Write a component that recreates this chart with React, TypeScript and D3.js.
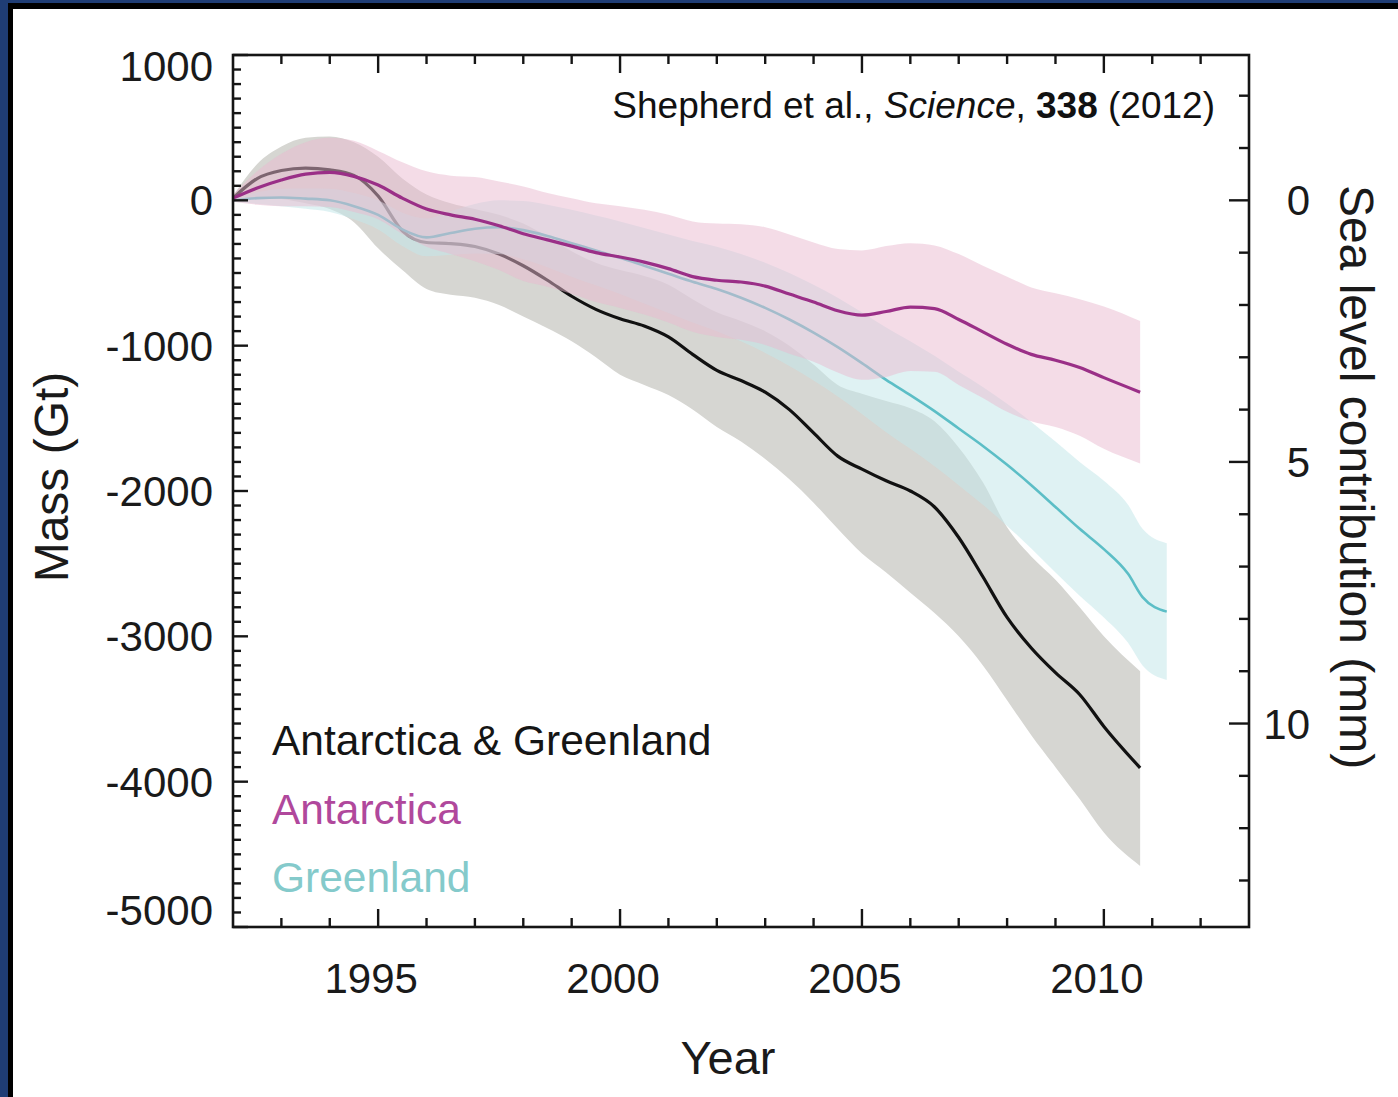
import React from 'react';
import * as d3 from 'd3';

const W = 1398;
const H = 1097;
const FONT = '"Liberation Sans", Arial, Helvetica, sans-serif';
const GT_PER_MM = 360;

// x positions (decimal years) for Antarctica & combined series
const yearsA = [
  1992.0, 1992.5, 1993.0, 1993.5, 1994.0, 1994.5, 1995.0, 1995.5, 1996.0, 1996.5,
  1997.0, 1997.5, 1998.0, 1998.5, 1999.0, 1999.5, 2000.0, 2000.5, 2001.0, 2001.5,
  2002.0, 2002.5, 2003.0, 2003.5, 2004.0, 2004.5, 2005.0, 2005.5, 2006.0, 2006.5,
  2007.0, 2007.5, 2008.0, 2008.5, 2009.0, 2009.5, 2010.0, 2010.75,
];

const antarcticaMean = [
  15, 85, 140, 180, 192, 165, 105, 15, -60, -100,
  -130, -175, -230, -272, -315, -360, -390, -425, -470, -525,
  -550, -562, -590, -645, -700, -760, -790, -765, -735, -745,
  -820, -905, -990, -1060, -1100, -1150, -1220, -1320,
];
const antarcticaUpper = [
  40, 200, 320, 400, 430, 410, 340, 262, 200, 170,
  160, 130, 95, 50, 15, -20, -40, -65, -100, -145,
  -160, -165, -185, -235, -290, -335, -345, -315, -295, -310,
  -370, -450, -525, -600, -640, -680, -730, -830,
];
const antarcticaLower = [
  -10, -30, -40, -40, -46, -80, -130, -232, -320, -370,
  -420, -480, -555, -594, -645, -700, -740, -785, -840, -905,
  -940, -960, -995, -1055, -1110, -1185, -1235, -1215, -1175, -1180,
  -1270, -1360, -1455, -1520, -1560, -1620, -1710, -1810,
];

const combinedMean = [
  15, 150, 205, 222, 210, 172, 30, -210, -290, -298,
  -318, -370, -450, -550, -660, -750, -815, -865, -940, -1060,
  -1170, -1240, -1320, -1440, -1600, -1760, -1850, -1930, -2000, -2110,
  -2320, -2590, -2870, -3080, -3250, -3400, -3620, -3905,
];
const combinedUpper = [
  30, 250, 370, 430, 440, 400, 300, 150, 40, -20,
  -60, -100, -160, -250, -350, -430, -480, -520, -580, -680,
  -770, -830, -900, -1000, -1130, -1270, -1330, -1380, -1430, -1520,
  -1700, -1940, -2250, -2450, -2610, -2800, -3000, -3240,
];
const combinedLower = [
  -10, 20, 10, -20, -60, -150, -330, -480, -610, -650,
  -670, -720, -800, -880, -970, -1080, -1200, -1270, -1340, -1440,
  -1560, -1660, -1780, -1920, -2080, -2260, -2430, -2560, -2700, -2840,
  -3000, -3200, -3440, -3680, -3900, -4120, -4350, -4580,
];

// Greenland series runs slightly longer
const yearsG = [
  1992.0, 1992.5, 1993.0, 1993.5, 1994.0, 1994.5, 1995.0, 1995.5, 1996.0, 1996.5,
  1997.0, 1997.5, 1998.0, 1998.5, 1999.0, 1999.5, 2000.0, 2000.5, 2001.0, 2001.5,
  2002.0, 2002.5, 2003.0, 2003.5, 2004.0, 2004.5, 2005.0, 2005.5, 2006.0, 2006.5,
  2007.0, 2007.5, 2008.0, 2008.5, 2009.0, 2009.5, 2010.0, 2010.5, 2010.8, 2011.3,
];
const greenlandMean = [
  0, 15, 20, 12, 0, -40, -100, -200, -255, -225,
  -195, -185, -205, -245, -295, -345, -395, -450, -505, -560,
  -610, -670, -740, -820, -910, -1010, -1120, -1235, -1340, -1450,
  -1570, -1690, -1820, -1960, -2110, -2260, -2400, -2570, -2730, -2830,
];
const greenlandUpper = [
  10, 55, 80, 82, 80, 50, 0, -85, -125, -75,
  -25, 0, -5, -30, -65, -105, -145, -190, -235, -280,
  -320, -370, -430, -500, -580, -670, -770, -875, -970, -1070,
  -1180, -1285, -1400, -1525, -1660, -1800, -1930, -2095, -2260, -2360,
];
const greenlandLower = [
  -10, -25, -40, -58, -80, -130, -200, -315, -385, -375,
  -365, -370, -405, -460, -525, -585, -645, -710, -775, -840,
  -900, -970, -1050, -1140, -1240, -1350, -1470, -1595, -1710, -1830,
  -1960, -2095, -2240, -2395, -2560, -2720, -2870, -3045, -3200, -3300,
];

const massTickLabels = [1000, 0, -1000, -2000, -3000, -4000, -5000];
const yearTickLabels = [1995, 2000, 2005, 2010];
const seaTickLabels = [0, 5, 10];
const legendItems = [
  { label: 'Antarctica & Greenland', color: '#151515' },
  { label: 'Antarctica', color: '#b0489c' },
  { label: 'Greenland', color: '#84cacb' },
];

const PL = 233, PT = 55, PR = 1249, PB = 927;

export default function App() {
  const x = d3.scaleLinear().domain([1992, 2013]).range([PL, PR]);
  const y = d3.scaleLinear().domain([-5000, 1000]).range([PB, PT]);
  const sea = d3
    .scaleLinear()
    .domain([-1000 / GT_PER_MM, 5000 / GT_PER_MM])
    .range([PT, PB]);

  const band = (years: number[], lo: number[], hi: number[]) =>
    d3
      .area<number>()
      .x((_, i) => x(years[i]))
      .y0((_, i) => y(lo[i]))
      .y1((_, i) => y(hi[i]))
      .curve(d3.curveMonotoneX)(years) as string;

  const line = (years: number[], v: number[]) =>
    d3
      .line<number>()
      .x((_, i) => x(years[i]))
      .y((_, i) => y(v[i]))
      .curve(d3.curveMonotoneX)(years) as string;

  const massMinor = d3.range(-5000, 1001, 100);
  const yearMinor = d3.range(1993, 2013, 1);
  const seaMinor = d3.range(-2, 14, 1);

  const tickColor = '#151515';
  const tw = 2.4;

  return (
    <svg
      width={W}
      height={H}
      style={{ position: 'absolute', left: 0, top: 0, display: 'block' }}
      fontFamily={FONT}
    >
      <rect x={0} y={0} width={W} height={H} fill="#1f3d75" />
      <rect x={8} y={3} width={W} height={H} fill="#000" />
      <rect x={13} y={9} width={W} height={H} fill="#fff" />

      {/* uncertainty bands and lines */}
      <path d={band(yearsA, combinedLower, combinedUpper)} fill="#d6d6d2" />
      <path d={line(yearsA, combinedMean)} fill="none" stroke="#111" strokeWidth={3.2} />
      <path d={band(yearsG, greenlandLower, greenlandUpper)} fill="#c4e8ea" fillOpacity={0.55} />
      <path d={line(yearsG, greenlandMean)} fill="none" stroke="#5cbec6" strokeWidth={2.6} />
      <path d={band(yearsA, antarcticaLower, antarcticaUpper)} fill="#e9b9cf" fillOpacity={0.5} />
      <path d={line(yearsA, antarcticaMean)} fill="none" stroke="#9a2f87" strokeWidth={3.2} />

      {/* plot frame */}
      <rect
        x={PL}
        y={PT}
        width={PR - PL}
        height={PB - PT}
        fill="none"
        stroke={tickColor}
        strokeWidth={2.6}
      />

      {/* left ticks */}
      {massMinor.map((v) => {
        const major = v % 1000 === 0;
        return (
          <line
            key={'lm' + v}
            x1={PL}
            x2={PL + (major ? 15 : 8)}
            y1={y(v)}
            y2={y(v)}
            stroke={tickColor}
            strokeWidth={tw}
          />
        );
      })}
      {/* right ticks (sea level) */}
      {seaMinor.map((m) => {
        const major = m % 5 === 0;
        return (
          <line
            key={'rm' + m}
            x1={PR}
            x2={PR - (major ? 20 : 10)}
            y1={sea(m)}
            y2={sea(m)}
            stroke={tickColor}
            strokeWidth={tw}
          />
        );
      })}
      {/* top & bottom ticks */}
      {yearMinor.map((yr) => {
        const major = yr % 5 === 0;
        return (
          <g key={'x' + yr}>
            <line
              x1={x(yr)}
              x2={x(yr)}
              y1={PT}
              y2={PT + (major ? 18 : 9)}
              stroke={tickColor}
              strokeWidth={tw}
            />
            <line
              x1={x(yr)}
              x2={x(yr)}
              y1={PB}
              y2={PB - (major ? 18 : 9)}
              stroke={tickColor}
              strokeWidth={tw}
            />
          </g>
        );
      })}

      {/* tick labels */}
      {massTickLabels.map((v) => {
        let off = 0;
        if (v === 1000) off = 11;
        if (v === -5000) off = -17;
        return (
          <text
            key={'ml' + v}
            x={213}
            y={y(v) + off}
            dy="0.36em"
            textAnchor="end"
            fontSize={42}
            fill="#1a1a1a"
          >
            {v}
          </text>
        );
      })}
      {yearTickLabels.map((yr) => (
        <text
          key={'yl' + yr}
          x={x(yr) - 7}
          y={993}
          textAnchor="middle"
          fontSize={42}
          fill="#1a1a1a"
        >
          {yr}
        </text>
      ))}
      {seaTickLabels.map((m) => (
        <text
          key={'sl' + m}
          x={1310}
          y={sea(m)}
          dy="0.36em"
          textAnchor="end"
          fontSize={42}
          fill="#1a1a1a"
        >
          {m}
        </text>
      ))}

      {/* axis titles */}
      <text
        transform="translate(68,477) rotate(-90)"
        textAnchor="middle"
        fontSize={48}
        fill="#1a1a1a"
      >
        Mass (Gt)
      </text>
      <text x={728} y={1074} textAnchor="middle" fontSize={47} fill="#1a1a1a">
        Year
      </text>
      <text
        transform="translate(1340,477) rotate(90)"
        textAnchor="middle"
        fontSize={48}
        fill="#1a1a1a"
      >
        Sea level contribution (mm)
      </text>

      {/* citation */}
      <text x={1215} y={118} textAnchor="end" fontSize={37} fill="#111">
        Shepherd et al., <tspan fontStyle="italic">Science</tspan>,{' '}
        <tspan fontWeight="bold">338</tspan> (2012)
      </text>

      {/* legend */}
      {legendItems.map((it, i) => (
        <text key={it.label} x={272} y={755 + i * 68.5} fontSize={42.5} fill={it.color}>
          {it.label}
        </text>
      ))}
    </svg>
  );
}
